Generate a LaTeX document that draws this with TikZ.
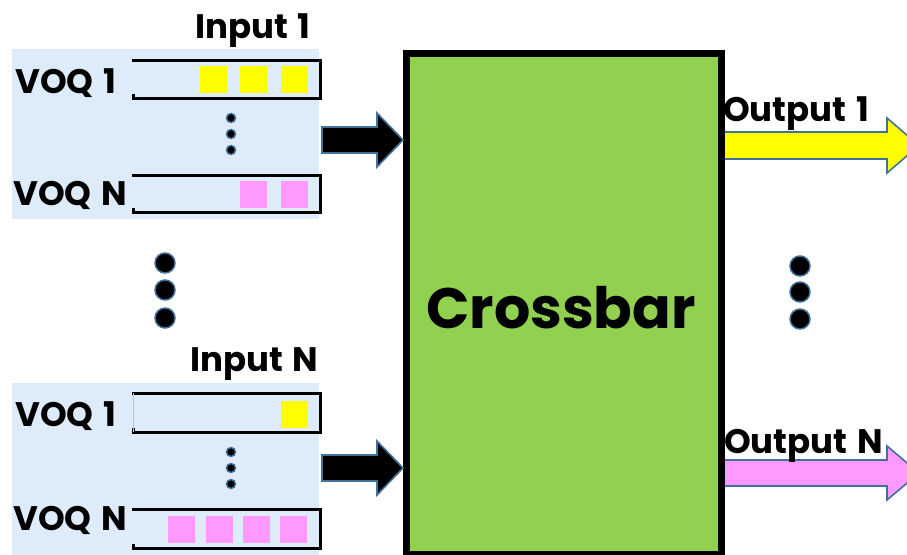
\documentclass[tikz,border=0pt]{standalone}
\usepackage{fontspec}
\setmainfont{Poppins}
\begin{document}
\begin{tikzpicture}[x=1pt,y=-1pt,
  panel/.style={fill=panelblue,draw=none},
  queue/.style={line width=3pt,line cap=rect},
  cellY/.style={fill=cellyellow,draw=none},
  cellP/.style={fill=cellpink,draw=none},
  lbl/.style={inner sep=0pt,font=\bfseries\fontsize{34}{34}\selectfont},
  title/.style={inner sep=0pt,font=\bfseries\fontsize{34}{34}\selectfont},
  sdot/.style={circle,fill=black,draw=dotblue,line width=1.4pt,minimum size=9pt,inner sep=0pt},
  bdot/.style={circle,fill=black,draw=dotblue,line width=1.5pt,minimum size=20pt,inner sep=0pt},
  barrow/.style={draw=dotblue,line width=1.6pt,line join=miter},
]
\definecolor{panelblue}{HTML}{DEEBF8}
\definecolor{cellyellow}{HTML}{FFFF00}
\definecolor{cellpink}{HTML}{FF99FF}
\definecolor{dotblue}{HTML}{41719C}
\definecolor{xbargreen}{HTML}{92D050}

\clip (0,0) rectangle (907,554);
\fill[white] (0,0) rectangle (907,554);

% input panels
\node[panel,minimum width=307pt,minimum height=170pt,anchor=north west,inner sep=0pt] (p1) at (12,49) {};
\node[panel,minimum width=307pt,minimum height=172pt,anchor=north west,inner sep=0pt] (pN) at (12,383) {};

% queues of input 1
\draw[queue] (133,60) -- (320,60) -- (320,98) -- (133,98) -- (133,95);
\draw[queue] (133,175) -- (320,175) -- (320,212) -- (133,212) -- (133,209);
\node[cellY,minimum size=27pt,inner sep=0pt] (a1) at (213.5,79.5) {};
\node[cellY,minimum size=27pt,inner sep=0pt] (a2) at (253.5,79.5) {};
\node[cellY,minimum size=27pt,inner sep=0pt] (a3) at (294.5,79.5) {};
\node[cellP,minimum size=27pt,inner sep=0pt] (b1) at (253.5,194) {};
\node[cellP,minimum size=27pt,inner sep=0pt] (b2) at (294,194) {};

% queues of input N
\draw[queue] (133,393) -- (320,393) -- (320,432) -- (133,432) -- (133,429);
\draw[dotblue!40,line width=0.6pt] (133,393) -- (133,432);
\draw[queue] (133,509) -- (320,509) -- (320,548) -- (133,548) -- (133,545);
\node[cellY,minimum size=27pt,inner sep=0pt] (c1) at (294.5,414.5) {};
\node[cellP,minimum size=27pt,inner sep=0pt] (d1) at (181.5,529.5) {};
\node[cellP,minimum size=27pt,inner sep=0pt] (d2) at (219.5,529.5) {};
\node[cellP,minimum size=27pt,inner sep=0pt] (d3) at (256.5,529.5) {};
\node[cellP,minimum size=27pt,inner sep=0pt] (d4) at (293.5,529.5) {};

% vertical ellipses inside the panels
\node[sdot] (e1) at (231,118) {};
\node[sdot] (e2) at (231,134) {};
\node[sdot] (e3) at (231,150) {};
\node[sdot] (f1) at (231,452) {};
\node[sdot] (f2) at (231,468) {};
\node[sdot] (f3) at (231,484) {};

% ellipses between inputs and between outputs
\node[bdot] (g1) at (165,263) {};
\node[bdot] (g2) at (165,290) {};
\node[bdot] (g3) at (165,318) {};
\node[bdot] (h1) at (800,266) {};
\node[bdot] (h2) at (800,292) {};
\node[bdot] (h3) at (800,319) {};

% labels
\node[title,anchor=base west] (t1) at (195,38) {Input\hspace{0.08em} 1};
\node[title,anchor=base west] (tN) at (190,371) {Input\hspace{0.08em} N};
\node[lbl,anchor=base west] (v11) at (15,93) {VOQ\hspace{0.08em} 1};
\node[lbl,anchor=base west] (v1N) at (13,205) {VOQ\hspace{0.08em} N};
\node[lbl,anchor=base west] (vN1) at (15,426) {VOQ\hspace{0.08em} 1};
\node[lbl,anchor=base west] (vNN) at (13,530) {VOQ\hspace{0.08em} N};

% output arrows
\draw[barrow,fill=cellyellow] (720,132) -- (887,132) -- (887,118) -- (919,145.5) -- (887,173) -- (887,159) -- (720,159) -- cycle;
\draw[barrow,fill=cellpink] (720,460) -- (887,460) -- (887,446) -- (919,473) -- (887,500) -- (887,486) -- (720,486) -- cycle;

% crossbar
\node[draw=black,fill=xbargreen,line width=6.5pt,minimum width=315pt,minimum height=501pt,anchor=north west,inner sep=0pt] (xb) at (403,50) {};
\node[inner sep=0pt,font=\bfseries\fontsize{57}{57}\selectfont,anchor=base] (xt) at (561,328) {Crossbar};

% input arrows
\draw[barrow,fill=black] (322,127) -- (377,127) -- (377,113) -- (xb.west |- 0,140) -- (377,167) -- (377,153) -- (322,153) -- cycle;
\draw[barrow,fill=black] (322,455) -- (377,455) -- (377,441) -- (xb.west |- 0,468) -- (377,495) -- (377,481) -- (322,481) -- cycle;

\node[title,anchor=base west] (o1) at (723,121) {Output\hspace{0.08em} 1};
\node[title,anchor=base west] (oN) at (724,453) {Output\hspace{0.08em} N};
\end{tikzpicture}
\end{document}
